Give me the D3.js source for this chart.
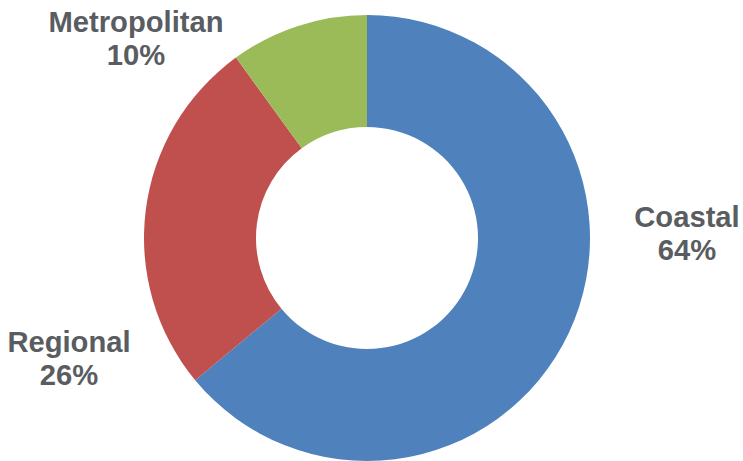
<!DOCTYPE html>
<html>
<head>
<meta charset="utf-8">
<script src="https://cdn.jsdelivr.net/npm/d3@7"></script>
<style>
  html, body { margin: 0; padding: 0; background: #ffffff; }
  svg { display: block; }
</style>
</head>
<body>
<svg id="chart" width="743" height="461"></svg>
<script>
// Share of total by area type
const categories = ["Coastal", "Regional", "Metropolitan"];
const shares = [64, 26, 10];
const colors = ["#4F81BD", "#C0504D", "#9BBB59"];

const width = 743, height = 461;
const cx = 367, cy = 238;
const outerR = 223, innerR = 111;

const svg = d3.select("#chart");
const g = svg.append("g").attr("transform", `translate(${cx},${cy})`);

const data = categories.map((c, i) => ({ name: c, value: shares[i], color: colors[i] }));

const pie = d3.pie().value(d => d.value).sort(null);
const arc = d3.arc().innerRadius(innerR).outerRadius(outerR);

const arcs = pie(data);

g.selectAll("path.slice")
  .data(arcs)
  .join("path")
  .attr("class", "slice")
  .attr("d", arc)
  .attr("fill", d => d.data.color);

// Label anchors (best-fit placement outside the ring), relative to centre
const labelLayout = {
  Coastal:      { dx: 320, dy: -11 },
  Regional:     { dx: -298, dy: 114 },
  Metropolitan: { dx: -231, dy: -206 }
};

const labels = g.selectAll("text.label")
  .data(arcs)
  .join("text")
  .attr("class", "label")
  .attr("text-anchor", "middle")
  .attr("font-family", "'Liberation Sans', Arial, sans-serif")
  .attr("font-weight", "bold")
  .attr("font-size", 29.2)
  .attr("fill", "#595d61")
  .attr("transform", d => {
    const p = labelLayout[d.data.name];
    return `translate(${p.dx},${p.dy})`;
  });

labels.append("tspan")
  .attr("x", 0)
  .attr("y", 0)
  .text(d => d.data.name);

labels.append("tspan")
  .attr("x", 0)
  .attr("y", 33)
  .text(d => Math.round(d.value / d3.sum(shares) * 100) + "%");
</script>
</body>
</html>
